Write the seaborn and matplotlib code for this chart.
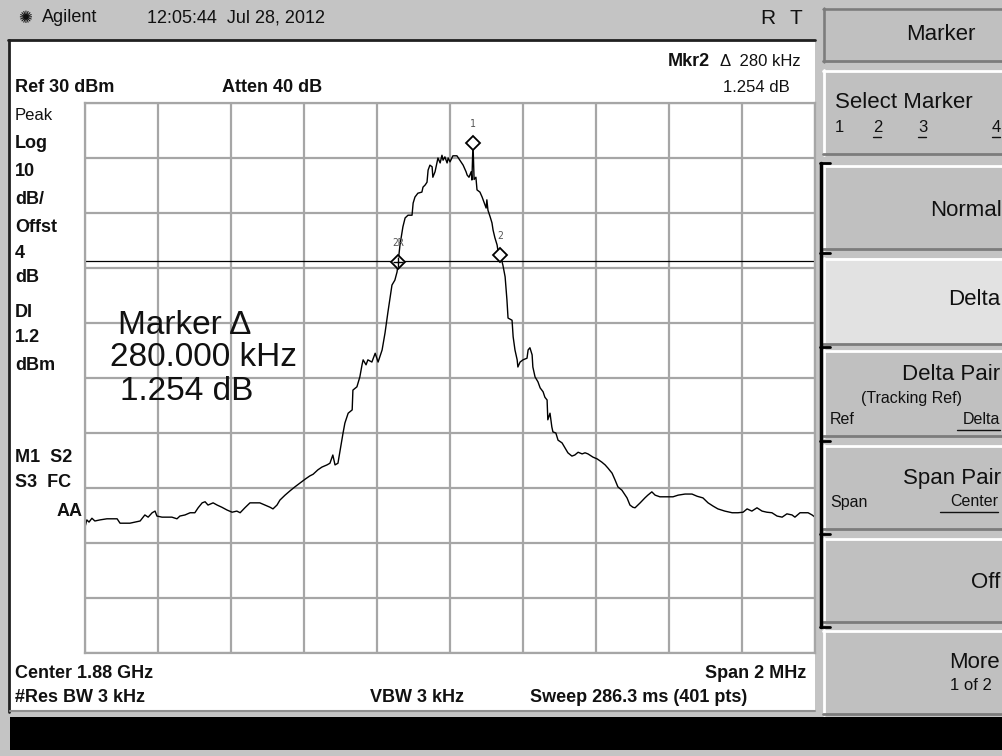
import matplotlib.pyplot as plt
import matplotlib as mpl
import numpy as np
import pandas as pd
import seaborn as sns
from matplotlib.patches import Rectangle
from matplotlib.lines import Line2D

# trace: offset from centre (kHz), level (dBm)
freq_khz = [-1000, -995, -989, -981, -973, -959, -940, -926, -912, -904,
            -890, -877, -863, -849, -836, -827, -816, -808, -803, -789,
            -775, -762, -748, -740, -726, -712, -699, -690, -679, -671,
            -663, -649, -638, -625, -611, -597, -584, -575, -562, -548,
            -534, -521, -507, -493, -485, -474, -466, -452, -438, -425,
            -411, -397, -384, -375, -362, -351, -337, -329, -321, -315,
            -307, -301, -293, -288, -279, -268, -266, -255, -247, -241,
            -238, -230, -225, -214, -205, -197, -186, -178, -170, -164,
            -159, -151, -145, -142, -137, -129, -123, -115, -104, -101,
            -96, -88, -77, -74, -68, -63, -60, -55, -49, -47,
            -41, -36, -33, -27, -22, -19, -14, -8, -5, 0,
            8, 19, 27, 36, 44, 47, 52, 58, 60, 63,
            66, 71, 74, 82, 88, 93, 99, 101, 104, 110,
            115, 118, 123, 129, 132, 138, 145, 151, 156, 159,
            170, 173, 178, 184, 186, 192, 200, 211, 214, 219,
            225, 227, 233, 241, 247, 255, 260, 266, 268, 274,
            279, 282, 290, 296, 307, 315, 323, 334, 342, 351,
            362, 370, 378, 392, 403, 416, 425, 433, 444, 452,
            460, 471, 485, 493, 501, 507, 515, 521, 534, 542,
            553, 562, 575, 595, 611, 625, 644, 663, 677, 693,
            707, 721, 734, 753, 773, 789, 803, 814, 827, 841,
            855, 868, 882, 896, 910, 923, 937, 945, 959, 973,
            981, 992, 1000]
level_dbm = [-47.1, -45.8, -46.2, -45.5, -46.0, -45.8, -45.6, -45.6, -45.6, -46.4,
             -46.4, -46.4, -46.2, -46.0, -44.9, -45.3, -44.5, -44.2, -45.1, -45.3,
             -45.3, -45.3, -45.6, -45.1, -44.9, -44.5, -44.5, -43.6, -42.7, -42.5,
             -43.1, -42.7, -43.1, -43.5, -44.0, -44.4, -44.2, -44.5, -43.6, -42.7,
             -42.7, -42.7, -43.1, -43.5, -43.8, -43.1, -42.2, -41.3, -40.5, -39.8,
             -39.1, -38.4, -37.8, -37.5, -36.7, -36.2, -35.8, -35.5, -34.0, -35.8,
             -35.5, -33.1, -30.0, -28.2, -26.4, -25.8, -22.2, -21.6, -19.8, -17.6,
             -16.7, -17.6, -16.7, -17.1, -15.5, -17.1, -14.9, -11.8, -8.0, -5.3,
             -3.1, -2.2, -0.7, 1.1, 4.2, 7.5, 9.1, 9.6, 9.6, 11.8,
             12.9, 13.6, 13.8, 14.7, 15.1, 15.6, 17.8, 18.7, 18.4, 16.5,
             17.5, 19.1, 20.0, 19.1, 20.5, 19.6, 20.2, 19.1, 20.0, 19.3,
             20.4, 20.4, 19.6, 18.7, 17.5, 16.9, 16.5, 17.5, 16.0, 22.7,
             16.1, 16.5, 14.2, 13.8, 12.9, 12.0, 10.9, 12.4, 10.5, 9.3,
             8.2, 6.9, 5.5, 4.2, 2.9, 2.35, 0.5, -1.6, -5.8, -9.1,
             -9.5, -12.5, -14.9, -16.7, -18.0, -17.1, -16.7, -16.4, -14.9, -14.5,
             -15.8, -18.0, -19.8, -20.7, -21.8, -22.5, -23.5, -24.0, -27.6, -26.4,
             -28.9, -29.8, -30.0, -31.3, -31.8, -32.7, -33.6, -34.2, -34.0, -33.5,
             -33.8, -33.6, -33.8, -34.4, -34.7, -35.3, -35.8, -36.4, -37.3, -38.5,
             -39.8, -40.4, -41.8, -43.1, -43.5, -43.6, -43.1, -42.7, -41.8, -41.3,
             -40.7, -41.3, -41.6, -41.6, -41.6, -41.3, -41.1, -41.1, -41.5, -41.8,
             -42.7, -43.3, -43.8, -44.2, -44.5, -44.5, -44.4, -43.8, -44.2, -43.6,
             -44.2, -44.4, -44.5, -45.1, -45.3, -44.7, -44.9, -45.3, -44.5, -44.5,
             -44.5, -44.9, -45.3]

# markers
mkr_names = ['1', '2R', '2']
mkr_freq = [63, -142, 138]
mkr_level = [22.7, 1.1, 2.35]
display_line = 1.2
ref_level = 30
db_per_div = 10

W, H = 1003, 756
sns.set_theme(style='white')
plt.rcParams['font.family'] = ['Liberation Sans', 'DejaVu Sans']
BOLD = dict(fontsize=13, fontweight='bold')

fig = plt.figure(figsize=(W / 100, H / 100), dpi=100, facecolor='#c4c4c4')


def rect(x0, y0, x1, y1, fc, z=-2):
    fig.add_artist(Rectangle((x0 / W, 1 - y1 / H), (x1 - x0) / W, (y1 - y0) / H,
                             transform=fig.transFigure, fc=fc, ec='none', zorder=z))


def seg(x0, y0, x1, y1, c='black', lw=1.0, z=-1):
    fig.add_artist(Line2D([x0 / W, x1 / W], [1 - y0 / H, 1 - y1 / H],
                          transform=fig.transFigure, color=c, lw=lw, zorder=z))


def txt(x, y, s, **kw):
    kw.setdefault('va', 'center')
    kw.setdefault('color', '#111111')
    fig.text(x / W, 1 - y / H, s, **kw)


# screen frame
rect(10, 40, 815, 712, 'white')
seg(8, 40, 815, 40, '#202020', 2)
seg(9, 40, 9, 712, '#202020', 2)
seg(10, 711, 815, 711, '#909090', 1.5)
rect(10, 717, 1003, 750, 'black')

# header
txt(18, 18, '\u273a', fontsize=12, family=['DejaVu Sans'])
txt(42, 18, 'Agilent', fontsize=13)
txt(147, 18, '12:05:44  Jul 28, 2012', fontsize=13)
txt(760, 18, 'R', fontsize=15)
txt(790, 18, 'T', fontsize=15)

# status lines
txt(668, 61, 'Mkr2', **BOLD)
txt(720, 61, 'Δ  280 kHz', fontsize=12)
txt(15, 87, 'Ref 30 dBm', **BOLD)
txt(222, 87, 'Atten 40 dB', **BOLD)
txt(790, 87, '1.254 dB', fontsize=12, ha='right')

left_labels = ['Log', '10', 'dB/', 'Offst', '4', 'dB', 'DI', '1.2', 'dBm', 'M1  S2', 'S3  FC']
left_rows = [143, 172, 200, 228, 253, 278, 313, 338, 365, 457, 483]
txt(15, 115, 'Peak', fontsize=12)
for lab, yy in zip(left_labels, left_rows):
    txt(15, yy, lab, **BOLD)
txt(83, 512, 'AA', ha='right', **BOLD)

txt(15, 673, 'Center 1.88 GHz', **BOLD)
txt(806, 673, 'Span 2 MHz', ha='right', **BOLD)
txt(15, 697, '#Res BW 3 kHz', **BOLD)
txt(370, 697, 'VBW 3 kHz', **BOLD)
txt(530, 697, 'Sweep 286.3 ms (401 pts)', **BOLD)

# trace window
ax = fig.add_axes([85 / W, 1 - 653 / H, 730 / W, 550 / H])
ax.set_facecolor('white')
ax.set_xlim(-1000, 1000)
ax.set_ylim(ref_level - 10 * db_per_div, ref_level)
ax.set_xticks(np.arange(-1000, 1001, 200))
ax.set_yticks(np.arange(ref_level - 10 * db_per_div, ref_level + 1, db_per_div))
ax.tick_params(length=0, labelbottom=False, labelleft=False)
ax.grid(True, color='#a6a6a6', lw=1.6)
ax.set_axisbelow(True)
for sp in ax.spines.values():
    sp.set_color('#a6a6a6')
    sp.set_linewidth(1.6)

trace = pd.DataFrame({'freq': freq_khz, 'level': level_dbm})
sns.lineplot(data=trace, x='freq', y='level', color='black', lw=1.0, ax=ax)
ax.axhline(display_line, color='black', lw=0.9)
ax.set_xlabel('')
ax.set_ylabel('')

for name, f, lv in zip(mkr_names, mkr_freq, mkr_level):
    ax.plot(f, lv, marker='D', ms=7.5, mfc='white', mec='black', mew=1.3, zorder=5)
    if name == '2R':
        ax.plot(f, lv, marker='+', ms=7, mec='black', mew=1.0, zorder=6)
    ax.annotate(name, (f, lv), xytext=(0, 14), textcoords='offset points',
                ha='center', va='center', fontsize=7, color='#555555',
                family='DejaVu Sans Mono')

# big marker readout
txt(118, 325, 'Marker Δ', fontsize=24)
txt(110, 358, '280.000 kHz', fontsize=24)
txt(120, 392, '1.254 dB', fontsize=24)

# softkeys
keys = [(8, 62, '#c0c0c0'), (70, 155, '#c0c0c0'), (165, 250, '#c0c0c0'),
        (258, 345, '#e2e2e2'), (350, 437, '#c0c0c0'), (445, 530, '#c0c0c0'),
        (538, 623, '#c0c0c0'), (630, 715, '#c0c0c0')]
for y0, y1, fc in keys:
    rect(823, y0, 1003, y1, fc)
    seg(823, y0 + 1, 1003, y0 + 1, 'white', 2)
    seg(824, y0, 824, y1, 'white', 2)
    seg(823, y1 - 1, 1003, y1 - 1, '#7c7c7c', 2)
seg(823, 9, 1003, 9, '#7c7c7c', 2)
seg(824, 8, 824, 62, '#7c7c7c', 2)

# bracket for the marker modes
seg(821, 163, 821, 627, 'black', 2.5, z=1)
for yy in [163, 253, 347, 441, 534, 627]:
    seg(820, yy, 830, yy, 'black', 2, z=1)

KF = 16
txt(941, 35, 'Marker', fontsize=KF, ha='center')
txt(835, 103, 'Select Marker', fontsize=KF)
for lab, xx in zip(['1', '2', '3', '4'], [835, 873, 918, 992]):
    txt(xx, 127, lab, fontsize=12)
    if lab != '1':
        seg(xx, 137, xx + 8, 137, '#111111', 1, z=3)
txt(1002, 210, 'Normal', fontsize=KF, ha='right')
txt(1000, 300, 'Delta', fontsize=KF, ha='right')
txt(1000, 375, 'Delta Pair', fontsize=KF, ha='right')
txt(912, 398, '(Tracking Ref)', fontsize=11.5, ha='center')
txt(830, 420, 'Ref', fontsize=11.5)
txt(1000, 420, 'Delta', fontsize=11.5, ha='right')
seg(957, 430, 1000, 430, '#111111', 1, z=3)
txt(1001, 478, 'Span Pair', fontsize=KF, ha='right')
txt(830, 502, 'Span', fontsize=11.5)
txt(998, 502, 'Center', fontsize=11.5, ha='right')
seg(940, 512, 998, 512, '#111111', 1, z=3)
txt(1000, 582, 'Off', fontsize=KF, ha='right')
txt(1000, 662, 'More', fontsize=KF, ha='right')
txt(992, 686, '1 of 2', fontsize=12, ha='right')

plt.savefig('out.png', dpi=100, facecolor=fig.get_facecolor())
